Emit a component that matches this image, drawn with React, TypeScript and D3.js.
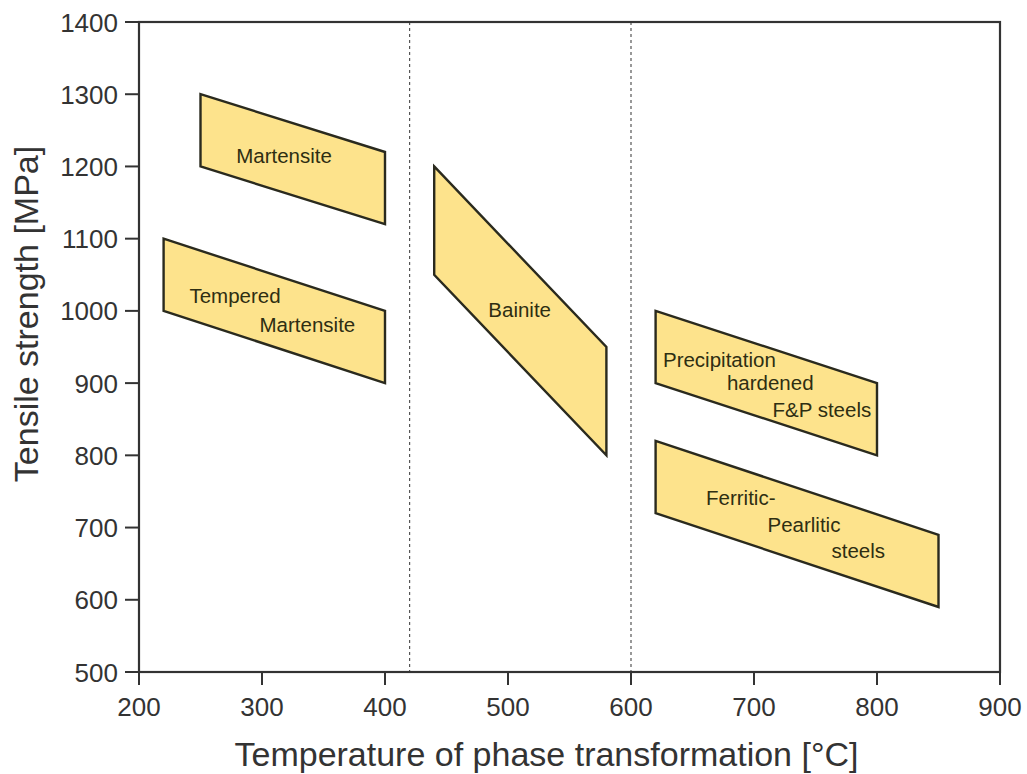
import React from 'react';
import * as d3 from 'd3';

// phase regions: corner points [temperature, strength]
const martensite = [[250, 1300], [400, 1220], [400, 1120], [250, 1200]];
const temperedMartensite = [[220, 1100], [400, 1000], [400, 900], [220, 1000]];
const bainite = [[440, 1200], [580, 950], [580, 800], [440, 1050]];
const precipitation = [[620, 1000], [800, 900], [800, 800], [620, 900]];
const ferriticPearlitic = [[620, 820], [850, 690], [850, 590], [620, 720]];

const regions = [martensite, temperedMartensite, bainite, precipitation, ferriticPearlitic];

// labels: text, temperature (left edge), strength (baseline)
const labels: [string, number, number][] = [
  ['Martensite', 279, 1205],
  ['Tempered', 241, 1011],
  ['Martensite', 298, 971],
  ['Bainite', 484, 991],
  ['Precipitation', 626, 922],
  ['hardened', 678, 890],
  ['F&P steels', 715, 853],
  ['Ferritic-', 661, 731],
  ['Pearlitic', 711, 694],
  ['steels', 763, 658],
];

const dividers = [420, 600];
const xTicks = [200, 300, 400, 500, 600, 700, 800, 900];
const yTicks = [500, 600, 700, 800, 900, 1000, 1100, 1200, 1300, 1400];

const width = 1027;
const height = 774;
const margin = { top: 22, right: 27, bottom: 102, left: 139 };

const x = d3.scaleLinear().domain([200, 900]).range([margin.left, width - margin.right]);
const y = d3.scaleLinear().domain([500, 1400]).range([height - margin.bottom, margin.top]);

const line = d3.line<number[]>().x(d => x(d[0])).y(d => y(d[1]));

const font = 'Arial, "Liberation Sans", sans-serif';

export default function App() {
  const x0 = x.range()[0], x1 = x.range()[1];
  const y0 = y.range()[0], y1 = y.range()[1];
  return (
    <svg width={width} height={height} style={{ position: 'absolute', left: 0, top: 0 }} fontFamily={font}>
      <rect width={width} height={height} fill="#fff" />
      {dividers.map(d => (
        <line key={d} x1={x(d)} x2={x(d)} y1={y1} y2={y0} stroke="#555" strokeWidth={1.2} strokeDasharray="3,3" />
      ))}
      {regions.map((r, i) => (
        <path key={i} d={line(r) + 'Z'} fill="#fde38c" stroke="#2a2a1e" strokeWidth={2.4} strokeLinejoin="miter" />
      ))}
      {labels.map(([t, tx, ty], i) => (
        <text key={i} x={x(tx)} y={y(ty)} fontSize={20.5} fill="#2e2e12">{t}</text>
      ))}
      <rect x={x0} y={y1} width={x1 - x0} height={y0 - y1} fill="none" stroke="#333" strokeWidth={2.2} />
      {xTicks.map(t => (
        <g key={t}>
          <line x1={x(t)} x2={x(t)} y1={y0} y2={y0 + 13} stroke="#333" strokeWidth={2} />
          <text x={x(t)} y={716} textAnchor="middle" fontSize={26} fill="#333">{t}</text>
        </g>
      ))}
      {yTicks.map(t => (
        <g key={t}>
          <line x1={x0 - 14} x2={x0} y1={y(t)} y2={y(t)} stroke="#333" strokeWidth={2} />
          <text x={x0 - 21} y={y(t) + 9.5} textAnchor="end" fontSize={26} fill="#333">{t}</text>
        </g>
      ))}
      <text x={(x0 + x1) / 2 - 23} y={766} textAnchor="middle" fontSize={34} fill="#333">Temperature of phase transformation [°C]</text>
      <text transform={`translate(38,${314}) rotate(-90)`} textAnchor="middle" fontSize={34} fill="#333">Tensile strength [MPa]</text>
    </svg>
  );
}
